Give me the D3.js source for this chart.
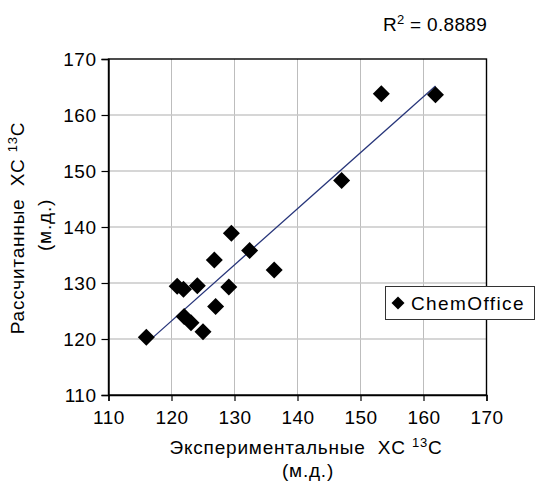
<!DOCTYPE html>
<html>
<head>
<meta charset="utf-8">
<script src="https://cdn.jsdelivr.net/npm/d3@7"></script>
<style>
html,body{margin:0;padding:0;background:#fff;}
svg{display:block;font-family:"Liberation Sans",Arial,Helvetica,sans-serif;}
text{white-space:pre;}
</style>
</head>
<body>
<svg id="chart" width="536" height="481"></svg>
<script>
const experimental = [116.0, 120.9, 121.9, 124.1, 129.1, 126.8, 129.5, 132.4, 136.3, 127.0, 122.0, 123.1, 125.0, 147.0, 153.3, 161.9];
const calculated   = [120.3, 129.4, 128.9, 129.5, 129.3, 134.1, 138.9, 135.8, 132.3, 125.8, 124.0, 122.9, 121.3, 148.3, 163.8, 163.6];
const xTicks = [110, 120, 130, 140, 150, 160, 170];
const yTicks = [110, 120, 130, 140, 150, 160, 170];
const seriesName = "ChemOffice";
const r2Label = "0.8889";

const svg = d3.select("#chart");
const m = {left: 108.5, right: 486.5, top: 59, bottom: 395};

const x = d3.scaleLinear().domain([110, 170]).range([m.left, m.right]);
const y = d3.scaleLinear().domain([110, 170]).range([m.bottom, m.top]);

// gridlines
const grid = svg.append("g");
grid.selectAll("line.v").data(xTicks.slice(1, -1)).enter().append("line")
  .attr("x1", d => x(d)).attr("x2", d => x(d)).attr("y1", m.top).attr("y2", m.bottom)
  .attr("stroke", "#bdbdbd").attr("stroke-width", 1);
grid.selectAll("line.h").data(yTicks.slice(1, -1)).enter().append("line")
  .attr("x1", m.left).attr("x2", m.right).attr("y1", d => y(d)).attr("y2", d => y(d))
  .attr("stroke", "#c8c8c8").attr("stroke-width", 1.4);

// plot border
svg.append("rect").attr("x", m.left).attr("y", m.top)
  .attr("width", m.right - m.left).attr("height", m.bottom - m.top)
  .attr("fill", "none").attr("stroke", "#000").attr("stroke-width", 1.4);

// axes
const xAxis = d3.axisBottom(x).tickValues(xTicks).tickSize(6).tickPadding(6).tickFormat(d3.format("d"));
const yAxis = d3.axisLeft(y).tickValues(yTicks).tickSize(7).tickPadding(5).tickFormat(d3.format("d"));
const gx = svg.append("g").attr("transform", `translate(0,${m.bottom})`).call(xAxis);
const gy = svg.append("g").attr("transform", `translate(${m.left},0)`).call(yAxis);
[gx, gy].forEach(g => {
  g.select(".domain").attr("stroke", "#000").attr("stroke-width", 1.4);
  g.selectAll(".tick line").attr("stroke", "#000").attr("stroke-width", 1.2);
  g.selectAll(".tick text").attr("fill", "#000").style("font-size", "19px")
    .style("letter-spacing", "0.5px")
    .style("font-family", '"Liberation Sans",Arial,sans-serif');
});
gx.selectAll(".tick text").attr("dy", "0.88em");
gy.selectAll(".tick text").attr("dy", "0.36em");

// regression line (least squares over the data)
const n = experimental.length;
const mx = d3.mean(experimental), my = d3.mean(calculated);
let sxy = 0, sxx = 0;
for (let i = 0; i < n; i++) { sxy += (experimental[i]-mx)*(calculated[i]-my); sxx += (experimental[i]-mx)**2; }
const slope = sxy / sxx, intercept = my - slope * mx;
const [xmin, xmax] = d3.extent(experimental);
svg.append("line")
  .attr("x1", x(xmin)).attr("y1", y(intercept + slope * xmin))
  .attr("x2", x(xmax)).attr("y2", y(intercept + slope * xmax))
  .attr("stroke", "#27357a").attr("stroke-width", 1.3);

// diamonds
function diamond(r) { return `M0,${-r}L${r},0L0,${r}L${-r},0Z`; }
svg.append("g").selectAll("path").data(experimental.map((d, i) => [d, calculated[i]])).enter()
  .append("path")
  .attr("d", diamond(8.5))
  .attr("transform", d => `translate(${x(d[0])},${y(d[1])})`)
  .attr("fill", "#000");

const titleStyle = t => t.style("font-size", "19px").style("letter-spacing", "0.8px").attr("fill", "#000");

// R^2 label
const r2 = svg.append("text").attr("x", 487).attr("y", 31).attr("text-anchor", "end")
  .style("font-size", "19px").style("letter-spacing", "0.3px").attr("fill", "#000");
r2.append("tspan").text("R");
r2.append("tspan").attr("dy", -7).style("font-size", "13px").text("2");
r2.append("tspan").attr("dy", 7).text(" = " + r2Label);

// x axis title
const xt = svg.append("text").attr("x", 306).attr("y", 454).attr("text-anchor", "middle").call(titleStyle);
xt.append("tspan").text("Экспериментальные  XC ");
xt.append("tspan").attr("dy", -7).style("font-size", "13px").text("13");
xt.append("tspan").attr("dy", 7).text("C");
svg.append("text").attr("x", 308).attr("y", 477).attr("text-anchor", "middle").call(titleStyle).text("(м.д.)");

// y axis title
const yt = svg.append("text").attr("transform", "translate(24,228) rotate(-90)")
  .attr("text-anchor", "middle").call(titleStyle);
yt.append("tspan").text("Рассчитанные  XC ");
yt.append("tspan").attr("dy", -7).style("font-size", "13px").text("13");
yt.append("tspan").attr("dy", 7).text("C");
svg.append("text").attr("transform", "translate(51,225) rotate(-90)")
  .attr("text-anchor", "middle").call(titleStyle).text("(м.д.)");

// legend
const lg = svg.append("g");
lg.append("rect").attr("x", 385.5).attr("y", 286.5).attr("width", 149).attr("height", 33)
  .attr("fill", "#fff").attr("stroke", "#333").attr("stroke-width", 1);
lg.append("path").attr("d", diamond(6.5)).attr("transform", "translate(398,303)").attr("fill", "#000");
lg.append("text").attr("x", 411).attr("y", 309.5).style("font-size", "19px")
  .style("letter-spacing", "1.4px").attr("fill", "#000").text(seriesName);
</script>
</body>
</html>
